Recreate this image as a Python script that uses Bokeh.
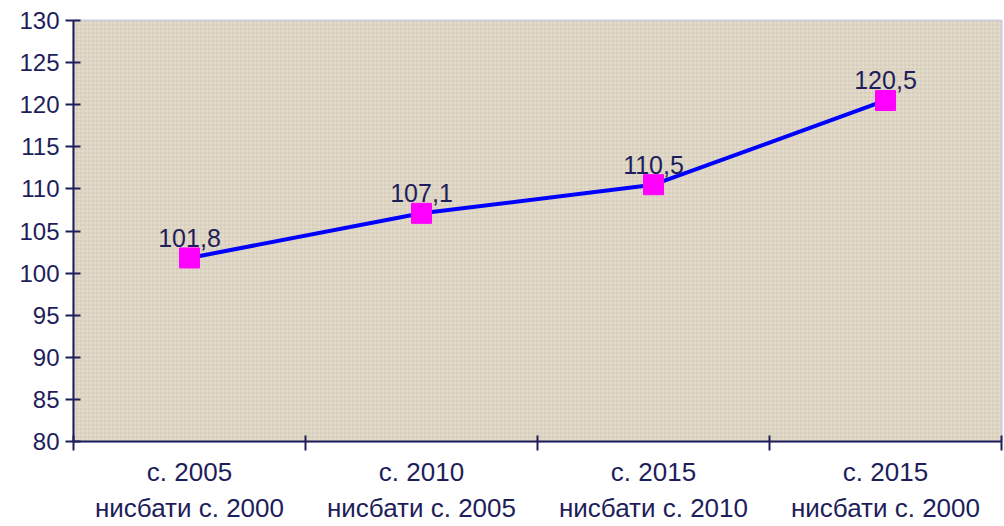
from bokeh.plotting import figure
from bokeh.models import (ColumnDataSource, Range1d, LinearAxis,
                          FixedTicker, BoxAnnotation, LabelSet)
from bokeh.core.properties import value
from bokeh.embed import file_html
from bokeh.resources import INLINE

categories = ["с. 2005\nнисбати с. 2000", "с. 2010\nнисбати с. 2005",
              "с. 2015\nнисбати с. 2010", "с. 2015\nнисбати с. 2000"]
values = [101.8, 107.1, 110.5, 120.5]
labels = [f"{v:.1f}".replace(".", ",") for v in values]
y_ticks = list(range(80, 131, 5))

FONT = "Liberation Sans"
NAVY = "#1E1E5A"

n = len(categories)
centers = [i + 0.5 for i in range(n)]
src = ColumnDataSource(dict(x=centers, y=values, lab=labels))

p = figure(width=1004, height=526, x_range=Range1d(0, n),
           y_range=Range1d(80, 130), x_axis_location=None, y_axis_location=None,
           output_backend="svg", toolbar_location=None)
p.min_border_left = 73
p.min_border_top = 20
p.min_border_right = 3
p.min_border_bottom = 0
p.background_fill_color = "#DAD1C0"
p.border_fill_color = "white"
p.outline_line_color = "#C8C8EC"
p.outline_line_width = 2
p.xgrid.visible = False
p.ygrid.visible = False

tex = BoxAnnotation(fill_color="#D8CEBC", fill_alpha=1.0, hatch_pattern="+",
                    hatch_color="#F0EBE0", hatch_alpha=0.5, hatch_scale=4, hatch_weight=1,
                    line_color=None, level="underlay")
p.add_layout(tex)

# y axis
yax = LinearAxis(ticker=FixedTicker(ticks=y_ticks))
yax.axis_line_color = NAVY
yax.axis_line_width = 2
yax.major_tick_line_color = NAVY
yax.major_tick_line_width = 2
yax.major_tick_in = 7
yax.major_tick_out = 8
yax.minor_tick_line_color = None
yax.major_label_text_font = FONT
yax.major_label_text_font_size = "24px"
yax.major_label_text_color = NAVY
yax.major_label_standoff = 6
p.add_layout(yax, "left")

# x axis: labels at category centres, ticks (minor) at boundaries
xax = LinearAxis(ticker=FixedTicker(ticks=centers, minor_ticks=list(range(n + 1))),
                 major_label_overrides={c: lab for c, lab in zip(centers, categories)})
xax.axis_line_color = NAVY
xax.axis_line_width = 2
xax.major_tick_line_color = None
xax.major_tick_in = 0
xax.major_tick_out = 0
xax.minor_tick_line_color = NAVY
xax.minor_tick_line_width = 2
xax.minor_tick_in = 6
xax.minor_tick_out = 9
xax.major_label_text_font = FONT
xax.major_label_text_font_size = "26px"
xax.major_label_text_color = NAVY
xax.major_label_standoff = 6
xax.major_label_text_line_height = 1.22
p.add_layout(xax, "below")

p.line("x", "y", source=src, line_color="#0000FF", line_width=4)
p.scatter("x", "y", source=src, marker="square", size=20, fill_color="#FF00FF",
          line_color="#FF00FF")
p.add_layout(LabelSet(x="x", y="y", text="lab", source=src, text_align="center",
                      text_baseline="alphabetic", y_offset=11, text_font=value(FONT),
                      text_font_size="25px", text_color=NAVY))

open("out.html", "w").write(file_html(p, INLINE))
